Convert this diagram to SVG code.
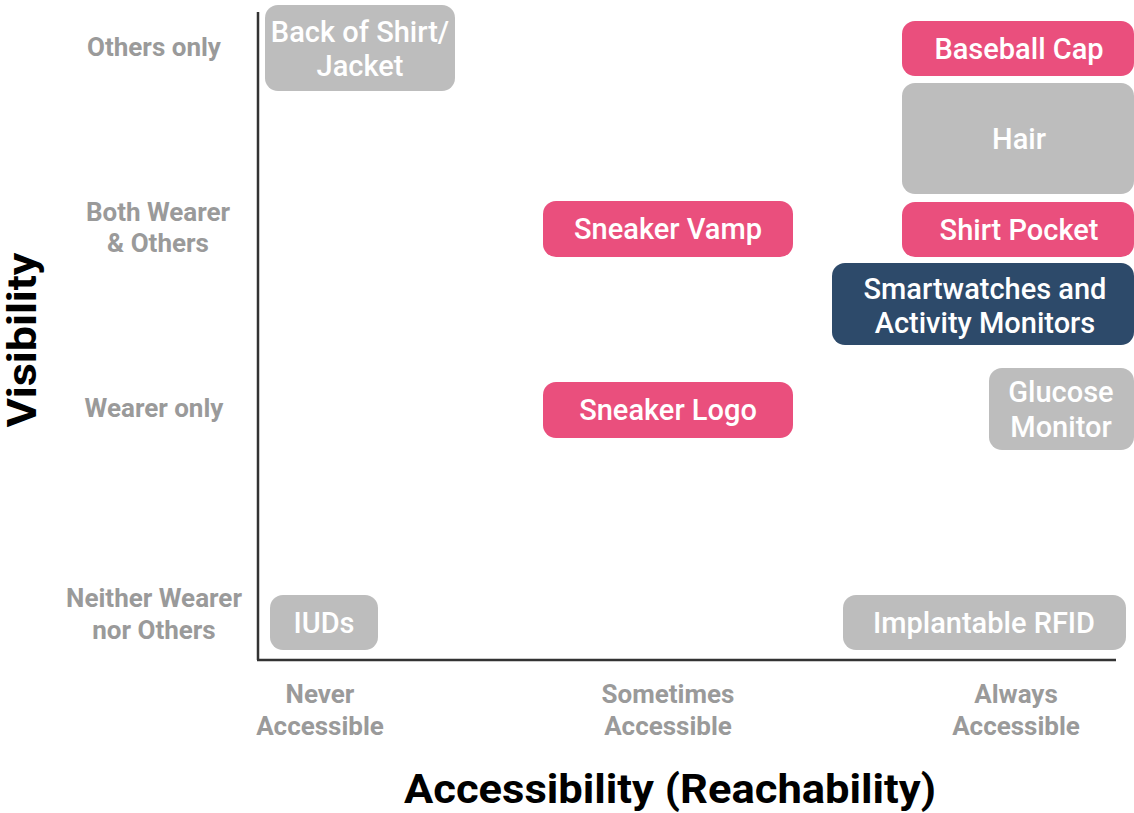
<svg xmlns="http://www.w3.org/2000/svg" width="1134" height="813" viewBox="0 0 1134 813">
<style>
.pink{fill:#ea4f7d}
.gray{fill:#bdbdbd}
.navy{fill:#2d4a6a}
.bt{font-family:Roboto,"Liberation Sans",sans-serif;font-weight:500;font-size:29px;fill:#fff;text-anchor:middle}
.lab{font-family:Roboto,"Liberation Sans",sans-serif;font-weight:700;font-size:26px;fill:#9a9a9a;text-anchor:middle}
.title{font-family:Roboto,"Liberation Sans",sans-serif;font-weight:700;font-size:41px;fill:#000;text-anchor:middle}
</style>
<rect width="1134" height="813" fill="#fff"/>
<g id="axes" stroke="#333" stroke-width="2.5" fill="none">
<line x1="258" y1="12" x2="258" y2="660"/>
<line x1="257" y1="660" x2="1116" y2="660"/>
</g>
<g id="y-labels">
<text class="lab" x="154" y="56">Others only</text>
<text class="lab" x="158" y="221">Both Wearer</text>
<text class="lab" x="158" y="252">&amp; Others</text>
<text class="lab" x="154" y="417">Wearer only</text>
<text class="lab" x="154" y="607">Neither Wearer</text>
<text class="lab" x="154" y="639">nor Others</text>
</g>
<g id="x-labels">
<text class="lab" x="320" y="703">Never</text>
<text class="lab" x="320" y="735">Accessible</text>
<text class="lab" x="668" y="703">Sometimes</text>
<text class="lab" x="668" y="735">Accessible</text>
<text class="lab" x="1016" y="703">Always</text>
<text class="lab" x="1016" y="735">Accessible</text>
</g>
<text id="x-title" class="title" x="670" y="803" textLength="532" lengthAdjust="spacingAndGlyphs">Accessibility (Reachability)</text>
<text id="y-title" class="title" transform="translate(36,340) rotate(-90)" textLength="175" lengthAdjust="spacingAndGlyphs">Visibility</text>
<g id="back-of-shirt">
<rect class="gray" x="265" y="5" width="190" height="86" rx="13"/>
<text class="bt" x="360" y="42">Back of Shirt/</text>
<text class="bt" x="360" y="76">Jacket</text>
</g>
<g id="baseball-cap">
<rect class="pink" x="902" y="21" width="232" height="55" rx="13"/>
<text class="bt" x="1019" y="59">Baseball Cap</text>
</g>
<g id="hair">
<rect class="gray" x="902" y="83" width="232" height="111" rx="13"/>
<text class="bt" x="1019" y="149">Hair</text>
</g>
<g id="shirt-pocket">
<rect class="pink" x="902" y="202" width="232" height="55" rx="13"/>
<text class="bt" x="1019" y="240">Shirt Pocket</text>
</g>
<g id="smartwatches">
<rect class="navy" x="832" y="263" width="302" height="82" rx="13"/>
<text class="bt" x="985" y="299">Smartwatches and</text>
<text class="bt" x="985" y="333">Activity Monitors</text>
</g>
<g id="glucose-monitor">
<rect class="gray" x="989" y="368" width="145" height="82" rx="13"/>
<text class="bt" x="1061" y="402">Glucose</text>
<text class="bt" x="1061" y="437">Monitor</text>
</g>
<g id="sneaker-vamp">
<rect class="pink" x="543" y="201" width="250" height="56" rx="13"/>
<text class="bt" x="668" y="239">Sneaker Vamp</text>
</g>
<g id="sneaker-logo">
<rect class="pink" x="543" y="382" width="250" height="56" rx="13"/>
<text class="bt" x="668" y="420">Sneaker Logo</text>
</g>
<g id="iuds">
<rect class="gray" x="270" y="595" width="108" height="55" rx="13"/>
<text class="bt" x="324" y="633">IUDs</text>
</g>
<g id="implantable-rfid">
<rect class="gray" x="843" y="595" width="283" height="55" rx="13"/>
<text class="bt" x="984" y="633">Implantable RFID</text>
</g>
</svg>
